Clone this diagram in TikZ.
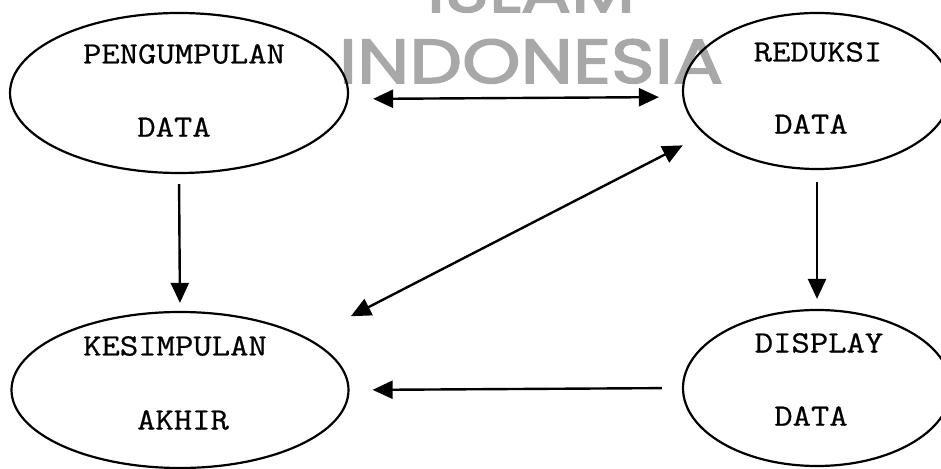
\documentclass[tikz,border=0pt]{standalone}
\usepackage{fontspec}
\usepackage{xcolor}
\usepackage{tikz}
\usetikzlibrary{arrows.meta}
\usetikzlibrary{shapes.geometric}
\newfontfamily\boxfont[FakeStretch=1.15,FakeBold=0.6]{Latin Modern Mono}
\newfontfamily\stampfont[FakeStretch=1.2,FakeBold=2.5]{Poppins}
\definecolor{stampgray}{RGB}{168,168,168}

\begin{document}
\begin{tikzpicture}[x=0.5pt,y=-0.5pt]
\tikzset{blob/.style={draw=black, line width=1.1pt, ellipse, inner sep=0pt}}
\tikzset{word/.style={font=\boxfont\fontsize{15.5}{16}\selectfont, inner sep=0pt}}
\tikzset{stamp/.style={font=\stampfont\fontsize{31}{31}\selectfont, text=stampgray, inner sep=0pt, anchor=base}}
\tikzset{flow/.style={draw=black, line width=1.2pt, >={Triangle[length=10pt,width=9pt]}}}

   \useasboundingbox (0,0) rectangle (941,469);

   % watermark
   \node[stamp] (islam) at (531,12) {ISLAM};
   \node[stamp] (indo) at (531,83) {INDONESIA};

   \node[blob, minimum width=169pt, minimum height=80pt] (peng) at (179,93) {};
   \node[blob, minimum width=134pt, minimum height=78pt] (red) at (817,91) {};
   \node[blob, minimum width=168.5pt, minimum height=78pt] (kes) at (180,390) {};
   \node[blob, minimum width=134pt, minimum height=78pt] (disp) at (817,388) {};

   \node[word] (peng1) at (184,54) {PENGUMPULAN};
   \node[word] (peng2) at (174,127) {DATA};
   \node[word] (red1) at (818,52) {REDUKSI};
   \node[word] (red2) at (811,124) {DATA};
   \node[word] (kes1) at (175,346) {KESIMPULAN};
   \node[word] (kes2) at (183,420) {AKHIR};
   \node[word] (disp1) at (819,343) {DISPLAY};
   \node[word] (disp2) at (811,416) {DATA};

   \draw[flow, <->, shorten <=12pt, shorten >=11.5pt]
      ([yshift=-3pt]peng.east) -- ([yshift=-3pt]red.west);
   \draw[flow, ->, shorten <=5pt, shorten >=4pt] (peng.south) -- (kes.north);
   \draw[flow, ->, shorten <=6pt, shorten >=5pt] (red.south) -- (disp.north);
   \draw[flow, <->, shorten <=24pt, shorten >=12pt] (kes.22) -- (red.201);
   \draw[flow, ->, shorten <=10pt, shorten >=11.5pt] (disp.west) -- (kes.east);
\end{tikzpicture}
\end{document}
